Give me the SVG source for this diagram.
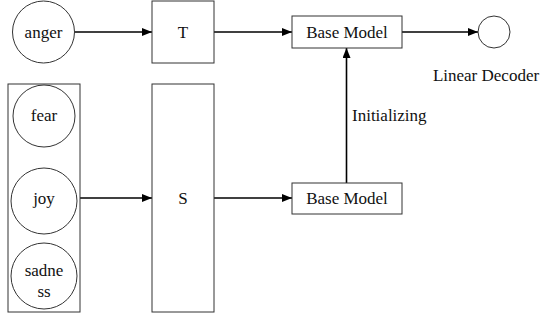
<svg xmlns="http://www.w3.org/2000/svg" width="541" height="322" viewBox="0 0 541 322">
<defs>
<marker id="ah" markerWidth="10" markerHeight="8" refX="10" refY="4" orient="auto" markerUnits="userSpaceOnUse">
<path d="M0,0 L10,4 L0,8 Z" fill="#000"/>
</marker>
<style>
.shape{fill:#fff;stroke:#333;stroke-width:1}
.conn{stroke:#000;stroke-width:1.6;fill:none;marker-end:url(#ah)}
.t{font-family:'Liberation Serif','DejaVu Serif',serif;font-size:17px;fill:#111;text-anchor:middle}
.l{text-anchor:start}
</style>
</defs>
<rect width="541" height="322" fill="#fff"/>
<g id="connectors">
<line class="conn" x1="75" y1="32" x2="152" y2="32"/>
<line class="conn" x1="214" y1="32" x2="292" y2="32"/>
<line class="conn" x1="402" y1="32" x2="478" y2="32"/>
<line class="conn" x1="80" y1="198" x2="152" y2="198"/>
<line class="conn" x1="214" y1="198" x2="292" y2="198"/>
<line class="conn" x1="346.5" y1="183" x2="346.5" y2="48"/>
<text class="t l" x="352" y="121" font-family="Liberation Serif, serif">Initializing</text>
</g>
<g id="anger"><circle class="shape" cx="43.5" cy="32" r="31"/><text class="t" x="43.5" y="38" font-family="Liberation Serif, serif">anger</text></g>
<g id="T"><rect class="shape" x="152" y="1" width="62" height="62"/><text class="t" x="183" y="38" font-family="Liberation Serif, serif">T</text></g>
<g id="base-top"><rect class="shape" x="292" y="16" width="110" height="32"/><text class="t" x="347" y="38" font-family="Liberation Serif, serif">Base Model</text></g>
<g id="decoder"><circle class="shape" cx="494" cy="32" r="16"/><text class="t" x="486" y="81" font-family="Liberation Serif, serif">Linear Decoder</text></g>
<g id="group"><rect class="shape" x="8" y="84" width="72" height="228"/></g>
<g id="fear"><circle class="shape" cx="44" cy="116" r="31"/><text class="t" x="44" y="121" font-family="Liberation Serif, serif">fear</text></g>
<g id="joy"><circle class="shape" cx="44" cy="201" r="33"/><text class="t" x="44" y="204" font-family="Liberation Serif, serif">joy</text></g>
<g id="sadness"><circle class="shape" cx="44" cy="276" r="33"/><text class="t" x="44" y="276" font-family="Liberation Serif, serif">sadne</text><text class="t" x="44" y="297" font-family="Liberation Serif, serif">ss</text></g>
<g id="S"><rect class="shape" x="152" y="84" width="62" height="228"/><text class="t" x="183" y="204" font-family="Liberation Serif, serif">S</text></g>
<g id="base-bottom"><rect class="shape" x="292" y="183" width="110" height="31"/><text class="t" x="347" y="204" font-family="Liberation Serif, serif">Base Model</text></g>
</svg>
